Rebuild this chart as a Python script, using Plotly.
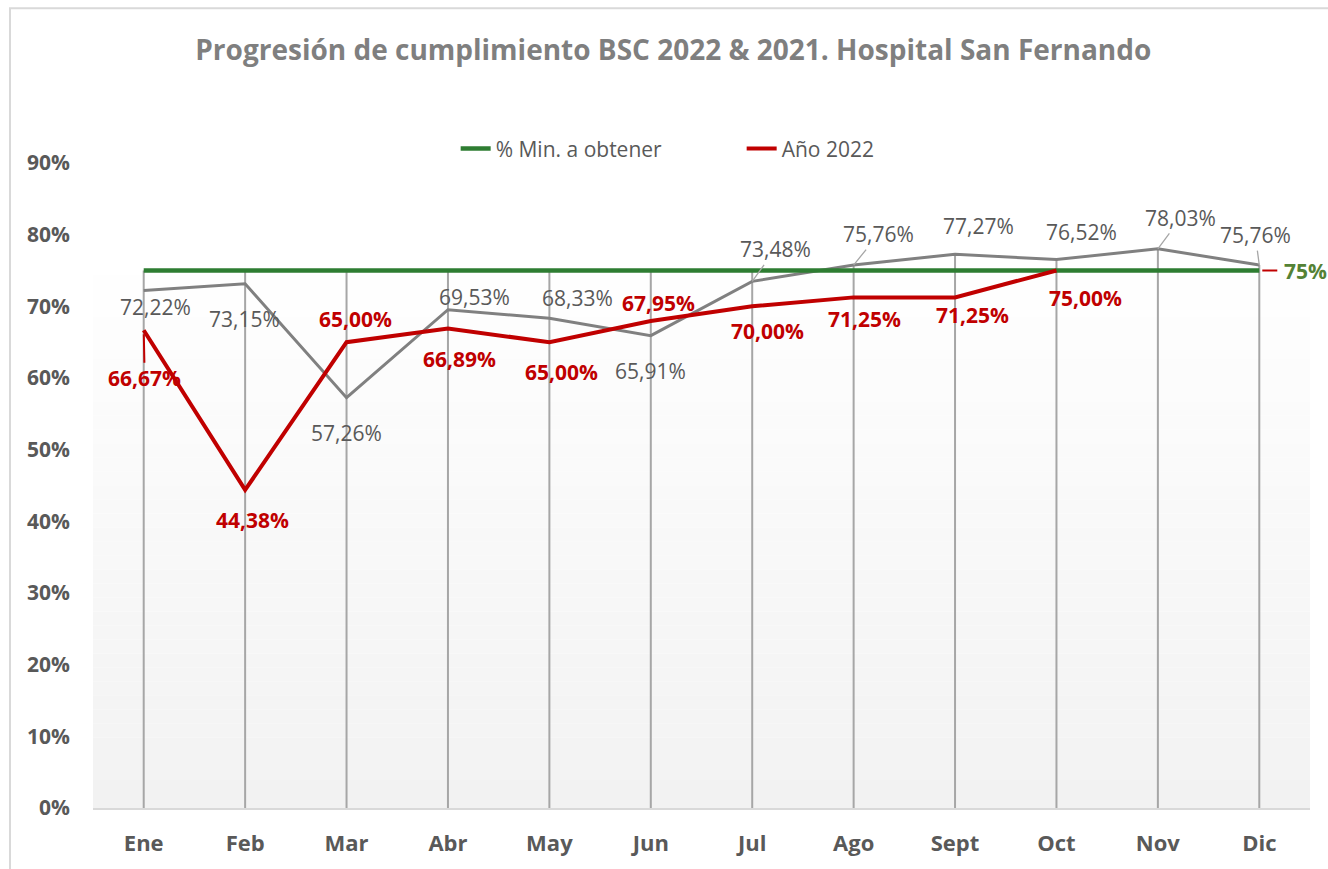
import plotly.graph_objects as go

# Data
months = ["Ene", "Feb", "Mar", "Abr", "May", "Jun", "Jul", "Ago", "Sept", "Oct", "Nov", "Dic"]
min_target = [0.75] * 12
year_2022 = [0.6667, 0.4438, 0.6500, 0.6689, 0.6500, 0.6795, 0.7000, 0.7125, 0.7125, 0.7500]
year_2021 = [0.7222, 0.7315, 0.5726, 0.6953, 0.6833, 0.6591, 0.7348, 0.7576, 0.7727, 0.7652, 0.7803, 0.7576]

# Label placement (pixel offsets from the point: dx right, dy down, leader line?)
off_2021 = [(12, 17, False), (-1, 35, False), (0, 35, False), (27, -13, False),
            (28, -20, False), (0, 35, False), (23, -32, True), (25, -31, True),
            (23, -28, False), (25, -28, False), (23, -31, True), (-4, -30, True)]
off_2022 = [(1, 48, True), (7, 30, False), (9, -23, False), (12, 30, False),
            (12, 30, False), (8, -18, False), (15, 25, False), (11, 22, False),
            (17, 18, False), (29, 27, False)]

GREEN = "#2E7D32"
RED = "#C00000"
GRAY = "#808080"
DROP = "#A6A6A6"
TXT = "#595959"
FONT = "Open Sans"


def fmt(v):
    return f"{v * 100:.2f}".replace(".", ",") + "%"


fig = go.Figure()

# drop lines from highest series value down to the axis
drop_x, drop_y = [], []
for i, m in enumerate(months):
    vals = [min_target[i], year_2021[i]]
    if i < len(year_2022):
        vals.append(year_2022[i])
    drop_x += [m, m, None]
    drop_y += [0, max(vals), None]
fig.add_trace(go.Scatter(x=drop_x, y=drop_y, mode="lines",
                         line=dict(color=DROP, width=2),
                         showlegend=False, hoverinfo="skip"))

fig.add_trace(go.Scatter(x=months, y=year_2021, mode="lines", name="Año 2021",
                         line=dict(color=GRAY, width=3), showlegend=False))
fig.add_trace(go.Scatter(x=months, y=min_target, mode="lines", name="% Min. a obtener",
                         line=dict(color=GREEN, width=4.5)))
fig.add_trace(go.Scatter(x=months[:len(year_2022)], y=year_2022, mode="lines", name="Año 2022",
                         line=dict(color=RED, width=4)))

# data labels
for i, v in enumerate(year_2021):
    dx, dy, lead = off_2021[i]
    common = dict(x=months[i], y=v, text=fmt(v),
                  font=dict(family=FONT, size=21, color=TXT))
    if lead:
        fig.add_annotation(**common, showarrow=True, ax=dx, ay=dy, arrowhead=0,
                           arrowwidth=1.3, arrowcolor=DROP, standoff=0)
    else:
        fig.add_annotation(**common, showarrow=False, xshift=dx, yshift=-dy)

for i, v in enumerate(year_2022):
    dx, dy, lead = off_2022[i]
    common = dict(x=months[i], y=v, text=fmt(v),
                  font=dict(family=FONT, size=21, color=RED, weight="bold"))
    if lead:
        fig.add_annotation(**common, showarrow=True, ax=dx, ay=dy, arrowhead=0,
                           arrowwidth=2, arrowcolor=RED, standoff=4)
    else:
        fig.add_annotation(**common, showarrow=False, xshift=dx, yshift=-dy)

# target label at the right end
fig.add_annotation(x=months[-1], y=min_target[-1], text=f"{min_target[-1] * 100:.0f}%",
                   showarrow=False, xshift=46,
                   font=dict(family=FONT, size=21, color="#548235", weight="bold"))
fig.add_shape(type="line", xref="x", yref="y", xsizemode="pixel", xanchor=months[-1],
              x0=3, x1=18, y0=min_target[-1], y1=min_target[-1],
              line=dict(color=RED, width=2))

# gradient plot-area background
n = 40
top = 0.87
for k in range(n):
    t = k / (n - 1)
    c = int(round(242 + (255 - 242) * t))
    fig.add_shape(type="rect", xref="paper", yref="paper", layer="below",
                  x0=0, x1=1, y0=top * k / n, y1=top * (k + 1) / n,
                  fillcolor=f"rgb({c},{c},{c})", line=dict(width=0))

# outer chart frame
fig.add_shape(type="rect", xref="paper", yref="paper", layer="below",
              x0=-0.0682, x1=1.03, y0=-0.1, y1=1.24,
              line=dict(color="#D9D9D9", width=2), fillcolor="rgba(0,0,0,0)")

fig.update_layout(
    width=1328, height=869,
    margin=dict(l=93, r=18, t=163, b=61),
    paper_bgcolor="white", plot_bgcolor="rgba(0,0,0,0)",
    font=dict(family=FONT, color=TXT),
    title=dict(text="<b>Progresión de cumplimiento BSC 2022 & 2021. Hospital San Fernando</b>",
               x=0.507, xref="container", xanchor="center",
               y=1 - 50 / 869, yref="container", yanchor="middle",
               font=dict(family=FONT, size=28, color="#7F7F7F")),
    legend=dict(orientation="h", x=0.298, xanchor="left", y=1.022, yanchor="middle",
                font=dict(family=FONT, size=21, color=TXT),
                entrywidth=241, entrywidthmode="pixels", bgcolor="rgba(0,0,0,0)"),
    xaxis=dict(range=[-0.5, 11.5], showgrid=False, zeroline=False,
               showline=True, linecolor="#D9D9D9", linewidth=2,
               tickfont=dict(family=FONT, size=22, color=TXT, weight="bold"),
               ticklabelstandoff=15),
    yaxis=dict(range=[0, 0.9], dtick=0.1, tickformat=".0%", showgrid=False,
               zeroline=False, showline=False,
               tickfont=dict(family=FONT, size=21, color=TXT, weight="bold"),
               ticklabelstandoff=22),
    showlegend=True,
)

fig.write_html("out.html", config={"displayModeBar": False},
               post_script="document.body.style.margin='0';")
